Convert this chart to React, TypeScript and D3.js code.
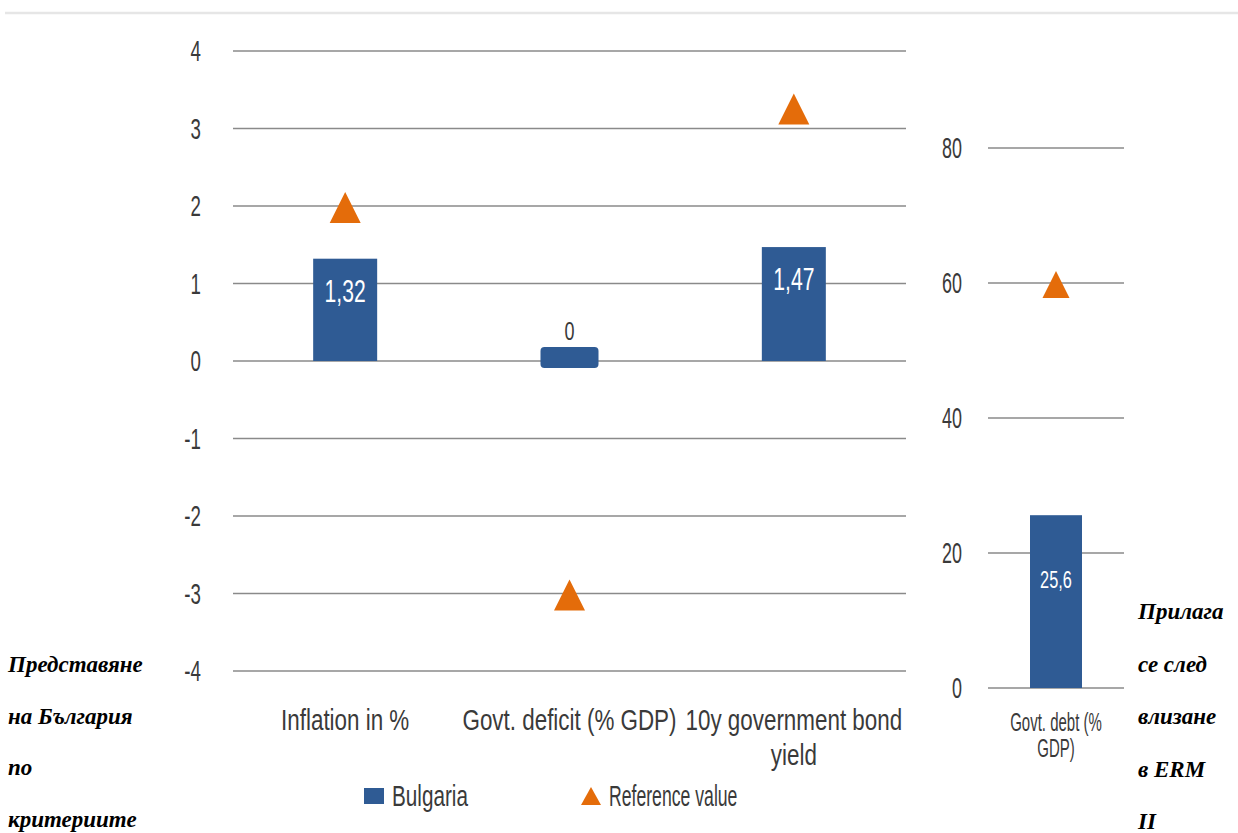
import React from "react";
import * as d3 from "d3";

const categories = ["Inflation in %", "Govt.  deficit (% GDP)", "10y government bond yield"];
const categoryLines = [["Inflation in %"], ["Govt.  deficit (% GDP)"], ["10y government bond", "yield"]];
const bulgaria = [1.32, 0, 1.47];
const bulgariaLabels = ["1,32", "0", "1,47"];
const referenceValues = [2.0, -3.0, 3.27];
const leftTicks = [4, 3, 2, 1, 0, -1, -2, -3, -4];

const debtCategory = ["Govt. debt (% GDP)"];
const debtLines = ["Govt. debt (%", "GDP)"];
const debtBulgaria = [25.6];
const debtLabels = ["25,6"];
const debtReference = [60];
const rightTicks = [0, 20, 40, 60, 80];

const leftNote = ["Представяне", "на България", "по", "критериите"];
const rightNote = ["Прилага", "се след", "влизане", "в ERM", "II"];
const legendItems = ["Bulgaria", "Reference value"];

const BLUE = "#2f5b94";
const ORANGE = "#e46c0a";
const GRID = "#8a8a8a";
const TXT = "#3a3a3a";
const FONT = "'Liberation Sans', Arial, sans-serif";
const SERIF = "'Liberation Serif', 'Times New Roman', serif";

function SText(props: {
  x: number; y: number; sx?: number; sy?: number; size: number; fill?: string;
  anchor?: string; children: React.ReactNode;
}) {
  const { x, y, sx = 1, sy = 1, size, fill = TXT, anchor = "middle", children } = props;
  return (
    <text
      transform={`translate(${x},${y}) scale(${sx},${sy})`}
      fontFamily={FONT}
      fontSize={size}
      fill={fill}
      textAnchor={anchor}
    >
      {children}
    </text>
  );
}

function tri(cx: number, cy: number, w: number, h: number) {
  const p = d3.path();
  p.moveTo(cx, cy - h / 2);
  p.lineTo(cx + w / 2, cy + h / 2);
  p.lineTo(cx - w / 2, cy + h / 2);
  p.closePath();
  return p.toString();
}

export default function App() {
  const W = 1238, H = 833;
  const yL = d3.scaleLinear().domain([-4, 4]).range([671, 51]);
  const xL = d3.scaleBand<string>().domain(categories).range([233, 906]).padding(0);
  const yR = d3.scaleLinear().domain([0, 80]).range([688, 148]);
  const xR = d3.scaleBand<string>().domain(debtCategory).range([988, 1124]).padding(0);
  const barW = 64;
  const barWR = 52;

  return (
    <svg width={W} height={H} style={{ position: "absolute", left: 0, top: 0, background: "#fff" }}>
      <line x1={5} x2={W} y1={13} y2={13} stroke="#e6e6e6" strokeWidth={2.5} />

      {/* left gridlines & ticks */}
      {leftTicks.map((t) => (
        <g key={"lt" + t}>
          <line x1={233} x2={906} y1={yL(t)} y2={yL(t)} stroke={GRID} strokeWidth={1.5} />
          <SText x={201} y={yL(t) + 10} size={26} sx={0.72} sy={1.12} anchor="end">
            {String(t)}
          </SText>
        </g>
      ))}

      {/* left bars */}
      {categories.map((c, i) => {
        const cx = (xL(c) as number) + xL.bandwidth() / 2;
        const v = bulgaria[i];
        const y0 = yL(0);
        const yv = yL(v);
        if (v === 0) {
          return (
            <g key={"b" + i}>
              <rect x={cx - (barW - 6) / 2} y={y0 - 14} width={barW - 6} height={21} rx={4} fill={BLUE} />
              <SText x={cx} y={y0 - 21} size={25} sx={0.72} sy={1.05}>
                {bulgariaLabels[i]}
              </SText>
            </g>
          );
        }
        return (
          <g key={"b" + i}>
            <rect x={cx - barW / 2} y={Math.min(yv, y0)} width={barW} height={Math.abs(y0 - yv)} fill={BLUE} />
            <SText x={cx} y={yv + 43} size={32} sx={0.66} fill="#ffffff">
              {bulgariaLabels[i]}
            </SText>
          </g>
        );
      })}

      {/* left reference triangles */}
      {categories.map((c, i) => {
        const cx = (xL(c) as number) + xL.bandwidth() / 2;
        return <path key={"t" + i} d={tri(cx, yL(referenceValues[i]) + 1.5, 31, 31)} fill={ORANGE} />;
      })}

      {/* left category labels */}
      {categories.map((c, i) => {
        const cx = (xL(c) as number) + xL.bandwidth() / 2;
        return categoryLines[i].map((ln, j) => (
          <SText key={"c" + i + j} x={cx} y={730 + j * 35} size={28} sx={0.8} sy={1.05}>
            {ln}
          </SText>
        ));
      })}

      {/* right gridlines & ticks */}
      {rightTicks.map((t) => (
        <g key={"rt" + t}>
          <line x1={988} x2={1124} y1={yR(t)} y2={yR(t)} stroke={GRID} strokeWidth={1.5} />
          <SText x={962} y={yR(t) + 10} size={28} sx={0.64} sy={1.05} anchor="end">
            {String(t)}
          </SText>
        </g>
      ))}

      {debtCategory.map((c, i) => {
        const cx = (xR(c) as number) + xR.bandwidth() / 2;
        const yv = yR(debtBulgaria[i]);
        return (
          <g key={"rb" + i}>
            <rect x={cx - barWR / 2} y={yv} width={barWR} height={yR(0) - yv} fill={BLUE} />
            <SText x={cx} y={yv + 73} size={24} sx={0.68} fill="#ffffff">
              {debtLabels[i]}
            </SText>
            <path d={tri(cx, yR(debtReference[i]) + 1.5, 27, 27)} fill={ORANGE} />
            {debtLines.map((ln, j) => (
              <SText key={"dl" + j} x={cx} y={731 + j * 26} size={25} sx={0.6}>
                {ln}
              </SText>
            ))}
          </g>
        );
      })}

      {/* legend */}
      <rect x={364} y={788} width={20} height={16} fill={BLUE} />
      <SText x={392} y={806} size={28} sx={0.74} sy={1.05} anchor="start">
        {legendItems[0]}
      </SText>
      <path d={tri(591, 796, 20, 18)} fill={ORANGE} />
      <SText x={609} y={806} size={28} sx={0.63} sy={1.05} anchor="start">
        {legendItems[1]}
      </SText>

      {/* side notes */}
      {leftNote.map((ln, i) => (
        <text key={"ln" + i} x={8} y={672 + i * 51.5} fontFamily={SERIF} fontWeight="bold" fontStyle="italic" fontSize={23} fill="#000">
          {ln}
        </text>
      ))}
      {rightNote.map((ln, i) => (
        <text key={"rn" + i} x={1138} y={619 + i * 52.5} fontFamily={SERIF} fontWeight="bold" fontStyle="italic" fontSize={23} fill="#000">
          {ln}
        </text>
      ))}
    </svg>
  );
}
